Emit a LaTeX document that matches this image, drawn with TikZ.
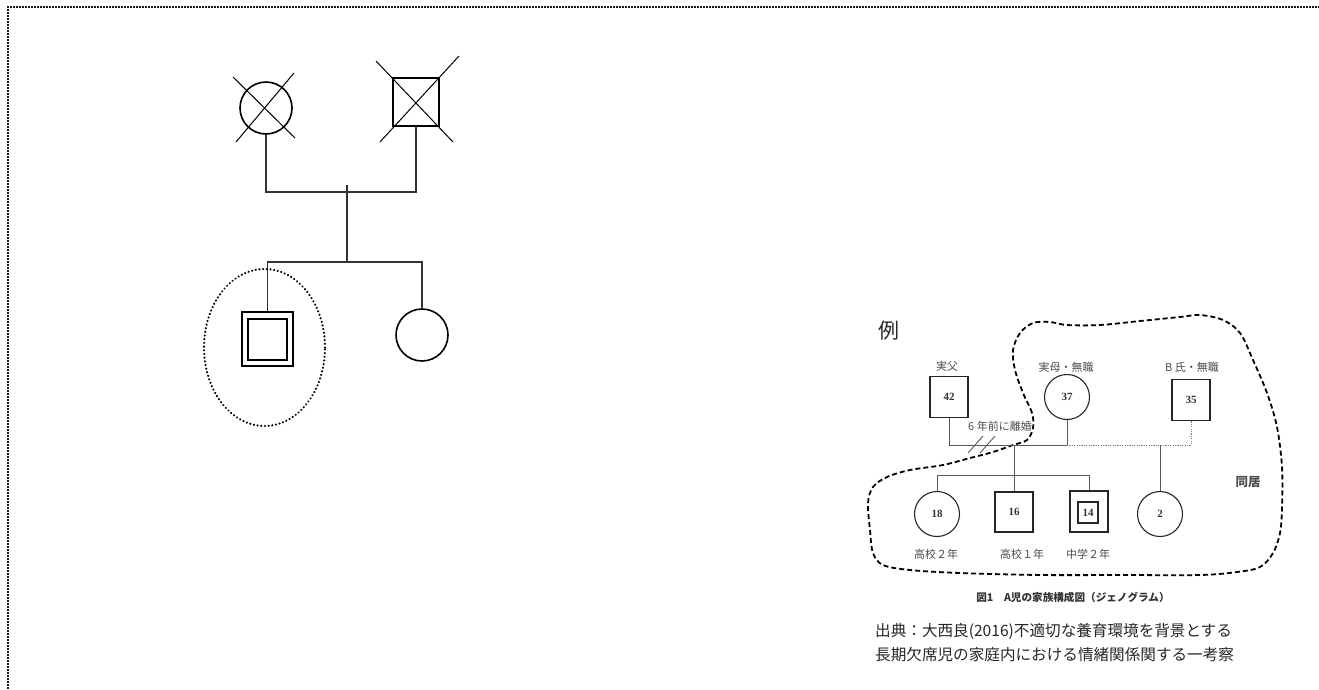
\documentclass[tikz,border=0pt]{standalone}
\usepackage{fontspec}
\usetikzlibrary{shapes.geometric}
\newfontfamily\jp{Noto Sans CJK JP}
\newfontfamily\numf{Liberation Serif}
\begin{document}
\begin{tikzpicture}[x=1pt,y=-1pt,
  border/.style={line width=2.2pt, draw=black!90, dash pattern=on 2pt off 1pt},
  ln/.style={line width=1.3pt, draw=black!80},
  xln/.style={line width=1pt, draw=black},
  fem/.style={circle, draw=black, line width=1.6pt, minimum size=52pt, inner sep=0pt},
  mal/.style={rectangle, draw=black, line width=2pt, inner sep=0pt},
  focus/.style={ellipse, draw=black, line width=2.3pt, dash pattern=on 0.1pt off 3.6pt, line cap=round, inner sep=0pt},
  esq/.style={rectangle, draw=black!85, line width=1.1pt, fill=white, inner sep=0pt, minimum width=38pt, minimum height=40pt, font=\numf\bfseries\fontsize{11}{11}\selectfont, text=black!80},
  ecir/.style={circle, draw=black!85, line width=1.1pt, fill=white, inner sep=0pt, minimum size=45pt, font=\numf\bfseries\fontsize{11}{11}\selectfont, text=black!80},
  eln/.style={line width=0.9pt, draw=black!65},
  edot/.style={line width=0.9pt, draw=black!50, dash pattern=on 1.2pt off 1.2pt},
  lbl/.style={font=\jp\fontsize{11}{12}\selectfont, text=black!70, inner sep=0pt},
  blob/.style={line width=1.8pt, draw=black, dash pattern=on 5pt off 3pt},
  src/.style={font=\jp\fontsize{15.6}{17}\selectfont, text=black!85, anchor=west, inner sep=0pt}
]
\useasboundingbox (0,0) rectangle (1319,689);
% page border
\draw[border] (8,689) -- (8,7) -- (1319,7);

% ---------- left genogram ----------
\node[fem] (gm) at (266,108) {};
\node[mal, minimum width=46pt, minimum height=48pt] (gf) at (416,102) {};
\draw[xln] ([shift={(-33,-31)}]gm.center) -- ([shift={(29,30)}]gm.center);
\draw[xln] ([shift={(28,-35)}]gm.center) -- ([shift={(-30,34)}]gm.center);
\draw[xln] ([shift={(-40,-41)}]gf.center) -- ([shift={(37,40)}]gf.center);
\draw[xln] ([shift={(43,-46)}]gf.center) -- ([shift={(-36,40)}]gf.center);

\coordinate (mar) at (347,192);
\coordinate (martop) at (347,185);
\coordinate (sib) at (347,262);
\draw[ln] (gm.south) |- (mar) -| (gf.south);
\draw[ln] (martop) -- (sib);

\node[mal, minimum width=51pt, minimum height=54pt] (son) at (267.5,339) {};
\node[mal, minimum width=39pt, minimum height=41pt] (soni) at (son.center) {};
\node[fem] (dau) at (422,335) {};
\draw[ln] (son.north) |- (sib) -| (dau.north);
\node[focus, minimum width=121pt, minimum height=157pt] (foc) at (264.5,347.5) {};

% ---------- example ----------
\node[font=\jp\fontsize{21}{22}\selectfont, text=black!85, anchor=west, inner sep=0pt] (rei) at (878,331) {例};

\draw[blob] plot[smooth cycle, tension=0.55] coordinates {
 (1033,428) (1032,413) (1023,393) (1015,370) (1013,350) (1020,333) (1033,323)
 (1050,322) (1067,325) (1100,325) (1140,321) (1180,317) (1200,315) (1223,320)
 (1240,333) (1253,360) (1267,393) (1277,427) (1282,467) (1282,507) (1280,533)
 (1273,553) (1260,567) (1237,572) (1200,575) (1120,575) (1040,575) (960,573)
 (910,570) (883,565) (873,553) (870,530) (868,503) (873,487) (887,477) (910,470)
 (943,465) (970,458) (993,452) (1013,445) (1027,440)};

\node[esq, minimum height=41pt] (f42) at (949,397) {42};
\node[ecir] (m37) at (1067,397) {37};
\node[esq, minimum height=41pt] (b35) at (1191,400) {35};
\node[lbl] (lf) at (947,366) {実父};
\node[lbl] (lm) at (1066,367) {実母・無職};
\node[lbl] (lb) at (1192,367) {B 氏・無職};
\node[lbl] (div) at (1000,426) {6 年前に離婚};

\coordinate (mline) at (1067,445);
\coordinate (ca) at (1014,445);
\coordinate (cb) at (1014,475);
\coordinate (bm) at (1160,445);
\draw[eln] (f42.south) |- (mline);
\draw[eln] (m37.south) -- (mline);
\draw[edot] (mline) -| (b35.south);
\draw[eln] (968,453) -- (983,436);
\draw[eln] (980,453) -- (995,436);

\node[ecir] (c18) at (937,514) {18};
\node[esq] (c16) at (1014,512) {16};
\node[esq, minimum height=41pt] (c14) at (1089,511.5) {};
\node[esq, minimum width=20pt, minimum height=21pt] (c14i) at (1088,512.5) {14};
\node[ecir] (c2) at (1160,514) {2};

\draw[eln] (ca) -- (c16.north);
\draw[eln] (c18.north) |- (cb) -| (c14.north);
\draw[eln] (bm) -- (c2.north);

\node[lbl] (l18) at (936,554) {高校２年};
\node[lbl] (l16) at (1022,554) {高校１年};
\node[lbl] (l14) at (1088,554) {中学２年};
\node[lbl, font=\jp\bfseries\fontsize{12.5}{13}\selectfont] (dk) at (1248,482) {同居};
\node[lbl, font=\jp\bfseries\fontsize{10.6}{11}\selectfont, text=black!80] (cap) at (1073,597) {図1　A児の家族構成図（ジェノグラム）};

\node[src] (s1) at (875,631) {出典：大西良(2016)不適切な養育環境を背景とする};
\node[src] (s2) at (875,655) {長期欠席児の家庭内における情緒関係関する一考察};
\end{tikzpicture}
\end{document}
